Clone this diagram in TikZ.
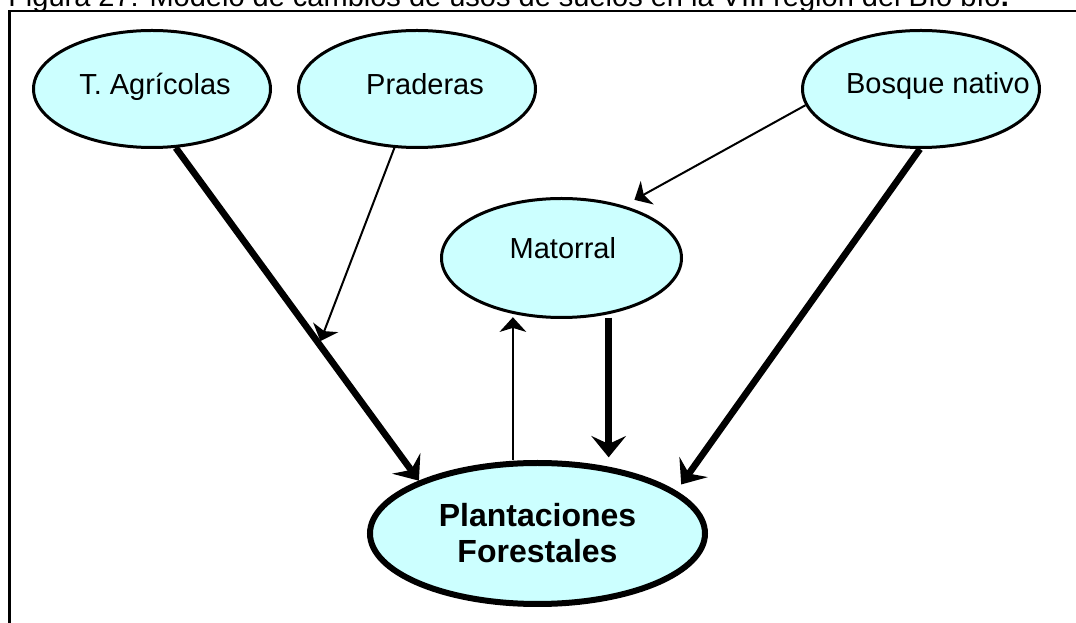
\documentclass[tikz,border=0pt]{standalone}
\usepackage{fontspec}
\setmainfont{Liberation Sans}
\usepackage{tikz}
\usetikzlibrary{shapes,arrows.meta,calc}
\usetikzlibrary{positioning, shapes.geometric}
\definecolor{landfill}{RGB}{204,255,255}
\tikzset{
  landuse/.style={ draw, ellipse, fill=landfill, line width=2.25pt, minimum width=177.75pt, minimum height=87.75pt, inner sep=0pt }
}
\tikzset{
  landmain/.style={ landuse, line width=4.5pt, minimum width=251.25pt, minimum height=105.75pt }
}
\tikzset{
  lbl/.style={ font=\fontsize{21.75}{25}\selectfont, inner sep=0pt, label distance=0pt, text height=16pt, text depth=5pt }
}
\tikzset{
  lblmain/.style={ font={\fontsize{24}{27}\selectfont\bfseries}, inner sep=0pt, label distance=0pt, align=center }
}
\tikzset{
  thickflow/.style={ line width=5pt, -{Stealth[length=16pt, width=26pt, inset=6pt]} }
}
\tikzset{
  thinflow/.style={ line width=1.5pt, -{Stealth[length=11pt, width=20pt, inset=3pt]} }
}

\begin{document}
\begin{tikzpicture}[x=0.75pt, y=-0.75pt]
      \clip (0, 0) rectangle (1076, 623);
      \node[font=\fontsize{21.75}{25}\selectfont, inner sep=0pt, anchor=base west] (title) at (8, 7) {Figura 27: Modelo de cambios de usos de suelos en la VIII región del Bío bío\textbf{.}};
      \draw[line width=1.8pt] (9.5, 700) -- (9.5, 11) -- (1100, 11); %frame%
      \node[landuse, label={[lbl, xshift=2.25pt, yshift=1.2pt]center:T. Agrícolas}] (agri) at (152, 89) {};
      \node[landuse, label={[lbl, xshift=6pt, yshift=1.2pt]center:Praderas}] (prad) at (417, 89) {};
      \node[landuse, label={[lbl, xshift=12.75pt, yshift=2pt]center:Bosque nativo}] (bosq) at (921, 89) {};
      \node[landuse, minimum width=180pt, minimum height=89.25pt, label={[lbl, xshift=1pt, yshift=4.75pt]center:Matorral}] (mato) at (561.5, 258) {};
      \node[landmain, label={[lblmain]center:Plantaciones\\Forestales}] (plan) at (537.5, 533.5) {};
      \coordinate (hit) at ($(agri.-68)!0.59!(plan.156)$);
      \draw[thickflow] (agri.-68) -- (plan.156);
      \draw[thinflow, shorten >=2.5pt] (prad.-111) -- (hit);
      \draw[thinflow, shorten >=9pt] (bosq.188) -- (mato.40);
      \draw[thickflow, shorten >=6pt] (bosq.-91) -- (plan.17);
      \draw[thickflow, shorten <=2.5pt, shorten >=2pt] (mato.-50) -- (mato.-50 |- plan.north);
      \draw[thinflow, shorten >=2.5pt] (plan.north -| mato.-131) -- (mato.-131);
    \end{tikzpicture}
\end{document}
